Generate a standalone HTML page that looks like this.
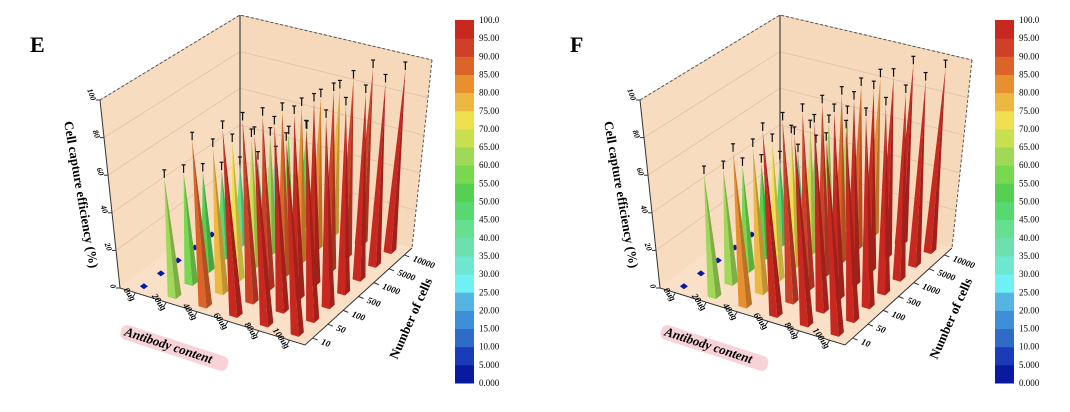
<!DOCTYPE html>
<html><head><meta charset="utf-8"><style>
body{margin:0;background:#fff;width:1070px;height:412px;overflow:hidden}
svg{display:block}
text{font-family:"Liberation Serif",serif}
</style></head><body>
<svg id="s" width="1070" height="412"></svg>
<script>
const antibodyLabels=["0ug","20ug","40ug","60ug","80ug","100ug"];
const cellLabels=["10","50","100","500","1000","5000","10000"];
const zTicks=[0,20,40,60,80,100];
const cbarLabels=["100.0","95.00","90.00","85.00","80.00","75.00","70.00","65.00","60.00","55.00","50.00","45.00","40.00","35.00","30.00","25.00","20.00","15.00","10.00","5.000","0.000"];
const valuesE0=[1,1,1,1,1,1,1];
const valuesE20=[62,58,52,46,42,38,34];
const valuesE40=[86,76,72,68,62,56,52];
const valuesE60=[96,94,90,86,82,80,78];
const valuesE80=[97,96,95,95,94,94,93];
const valuesE100=[98,98,97,97,97,96,96];
const valuesF0=[1,1,1,1,1,1,1];
const valuesF20=[64,60,55,50,45,42,40];
const valuesF40=[80,76,72,70,66,62,60];
const valuesF60=[95,94,92,90,88,86,84];
const valuesF80=[97,97,96,96,95,95,95];
const valuesF100=[98,98,98,97,97,97,97];
const cmap=["#0a1aa0","#1a3cb8","#2e6cc8","#3f8ed8","#56b4e0","#6ef0f5","#6ee6d0","#6ee0b0","#66e090","#58d870","#55d050","#78d850","#a0d858","#c8e050","#f0e050","#ecb840","#e89030","#dc6428","#d04028","#c82820"];
const NS="http://www.w3.org/2000/svg";
const svg=document.getElementById('s');
function mk(tag,attrs,parent){const e=document.createElementNS(NS,tag);for(const k in attrs)e.setAttribute(k,attrs[k]);(parent||svg).appendChild(e);return e;}
function col(v){let i=Math.min(19,Math.max(0,Math.floor(v/5)));return cmap[i];}
function shade(hex,f){let r=parseInt(hex.substr(1,2),16),g=parseInt(hex.substr(3,2),16),b=parseInt(hex.substr(5,2),16);return `rgb(${Math.round(r*f)},${Math.round(g*f)},${Math.round(b*f)})`;}
function lerp(p,q,t){return [p[0]+(q[0]-p[0])*t,p[1]+(q[1]-p[1])*t];}
function drawPanel(ox,rows,letter){
  const g=mk('g',{});
  
  
  const fL=[120+ox,288],fF=[305+ox,345],fR=[412+ox,248],fB=[240+ox,198];
  const tL=[100+ox,100],tF=[292+ox,147],tR=[432+ox,60],tB=[240+ox,15];
  function floorP(a,c){const p1=lerp(fL,fF,a),p2=lerp(fB,fR,a);return lerp(p1,p2,c);}
  function topP(a,c){const p1=lerp(tL,tF,a),p2=lerp(tB,tR,a);return lerp(p1,p2,c);}
  function P(a,c,z){return lerp(floorP(a,c),topP(a,c),z);}
  const pk=p=>p[0].toFixed(1)+','+p[1].toFixed(1);
  let e;
  e=mk('polygon',{points:[fL,fB,tB,tL].map(pk).join(' '),fill:'#f8dcc0'},g);
  
  e=mk('polygon',{points:[fB,fR,tR,tB].map(pk).join(' '),fill:'#f6d8bb'},g);
  
  e=mk('polygon',{points:[fL,fF,fR,fB].map(pk).join(' '),fill:'#f9e0c6'},g);
  
  zTicks.forEach(t=>{if(t==0)return;const z=t/100;
    mk('polyline',{points:[lerp(fL,tL,z),lerp(fB,tB,z),lerp(fR,tR,z)].map(pk).join(' '),fill:'none',stroke:'#d9c0a8','stroke-width':0.7},g);});
  mk('polyline',{points:[tL,tB,tR].map(pk).join(' '),fill:'none',stroke:'#555','stroke-width':1,'stroke-dasharray':'3,2'},g);
  mk('line',{x1:tR[0],y1:tR[1],x2:fR[0],y2:fR[1],stroke:'#555','stroke-width':1,'stroke-dasharray':'3,2'},g);
  mk('line',{x1:tB[0],y1:tB[1],x2:fB[0],y2:fB[1],stroke:'#444','stroke-width':1.2},g);
  mk('line',{x1:fL[0],y1:fL[1],x2:tL[0],y2:tL[1],stroke:'#333','stroke-width':1},g);
  mk('polyline',{points:[fL,fF,fR].map(pk).join(' '),fill:'none',stroke:'#333','stroke-width':1},g);
  zTicks.forEach(t=>{const p=lerp(fL,tL,t/100);
    mk('line',{x1:p[0],y1:p[1],x2:p[0]-4,y2:p[1],stroke:'#333'},g);
    const tx=mk('text',{x:p[0]-6,y:p[1]+3,'font-size':8,'font-style':'italic','font-weight':'bold','text-anchor':'end',transform:`rotate(70 ${p[0]-6} ${p[1]})`},g);
    tx.textContent=t;});
  const nA=antibodyLabels.length,nC=cellLabels.length;
  antibodyLabels.forEach((l,i)=>{const a=(i+0.5)/nA;const p=floorP(a,0);
    mk('line',{x1:p[0],y1:p[1],x2:p[0]-3,y2:p[1]+5,stroke:'#333'},g);
    const tx=mk('text',{x:p[0]-4,y:p[1]+9,'font-size':9,'font-style':'italic','font-weight':'bold','text-anchor':'end',transform:`rotate(55 ${p[0]-4} ${p[1]+9})`},g);
    tx.textContent=l;});
  cellLabels.forEach((l,j)=>{const c=(j+0.5)/nC;const p=floorP(1,c);
    mk('line',{x1:p[0],y1:p[1],x2:p[0]+5,y2:p[1]+2,stroke:'#333'},g);
    const tx=mk('text',{x:p[0]+8,y:p[1]+6,'font-size':9,'font-style':'italic','font-weight':'bold',transform:`rotate(20 ${p[0]+8} ${p[1]+6})`},g);
    tx.textContent=l;});
  const items=[];
  rows.forEach((row,i)=>row.forEach((v,j)=>items.push({i,j,v})));
  items.sort((p,q)=>((p.i/nA)-(p.j/nC))-((q.i/nA)-(q.j/nC)));
  const da=0.022,dc=0.024;
  items.forEach(it=>{
    const a=(it.i+0.5)/nA,c=(it.j+0.5)/nC,z=it.v/100,cl=col(it.v);
    const cg=mk('g',{},g);
    
    
    if(it.v<3){const p=P(a,c,0);
      mk('polygon',{points:`${p[0]-4},${p[1]} ${p[0]},${p[1]-3} ${p[0]+4},${p[1]} ${p[0]},${p[1]+3}`,fill:cl},cg);return;}
    const ap=P(a,c,z);
    const b1=P(a-da,c-dc,0),b2=P(a+da,c-dc,0),b3=P(a+da,c+dc,0);
    mk('polygon',{points:[b1,b2,ap].map(pk).join(' '),fill:shade(cl,1)},cg);
    mk('polygon',{points:[b2,b3,ap].map(pk).join(' '),fill:shade(cl,0.8)},cg);
    mk('line',{x1:ap[0],y1:ap[1],x2:ap[0],y2:ap[1]-8,stroke:'#111','stroke-width':1.2},cg);
    mk('line',{x1:ap[0]-2,y1:ap[1]-8,x2:ap[0]+2,y2:ap[1]-8,stroke:'#111','stroke-width':1.2},cg);
  });
  let t=mk('text',{x:0,y:0,'font-size':13,'font-weight':'bold',transform:`translate(${64+ox},${122}) rotate(80)`},g);
  t.textContent='Cell capture efficiency (%)';
  const bg=mk('rect',{x:0,y:-11,width:112,height:15,rx:6,fill:'#f7d3d8',transform:`translate(${120+ox},${334}) rotate(18)`},g);
  
  t=mk('text',{x:4,y:0,'font-size':13,'font-weight':'bold','font-style':'italic',transform:`translate(${120+ox},${334}) rotate(18)`},g);
  t.textContent='Antibody content';
  t=mk('text',{x:0,y:0,'font-size':13,'font-weight':'bold',transform:`translate(${397+ox},${360}) rotate(-66)`},g);
  t.textContent='Number of cells';
  t=mk('text',{x:30+ox,y:52,'font-size':22,'font-weight':'bold'},g);
  t.textContent=letter;
  const cx=455+ox,cy0=20,cy1=383,h=(cy1-cy0)/cmap.length;
  cmap.forEach((c,k)=>{const r=mk('rect',{x:cx,y:cy1-(k+1)*h,width:19,height:h+0.5,fill:c},g);
    });
  cbarLabels.forEach((l,k)=>{const y=cy0+k*(cy1-cy0)/20;
    const tx=mk('text',{x:cx+24,y:y+3,'font-size':9},g);tx.textContent=l;
    });
}
drawPanel(0,[valuesE0,valuesE20,valuesE40,valuesE60,valuesE80,valuesE100],'E');
drawPanel(540,[valuesF0,valuesF20,valuesF40,valuesF60,valuesF80,valuesF100],'F');
</script>
</body></html>
